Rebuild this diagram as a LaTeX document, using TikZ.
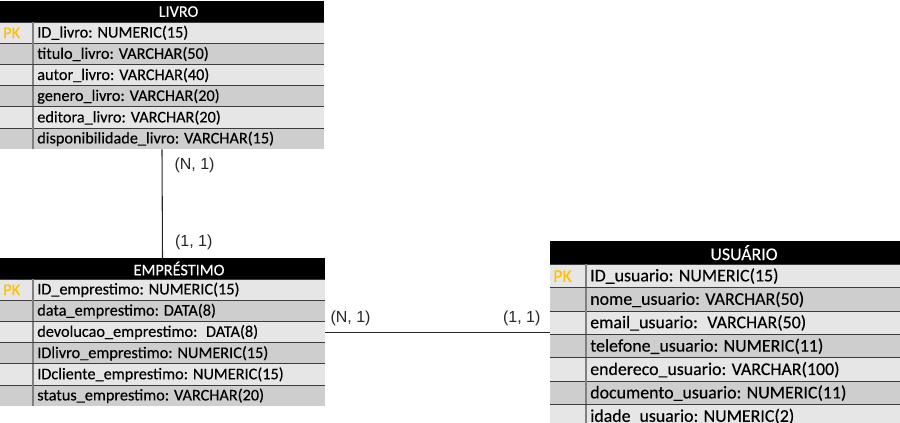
\documentclass[tikz,border=0pt]{standalone}
\usepackage{fontspec}
\setmainfont{Carlito}[FakeBold=0.25]
\newfontfamily\arial{Liberation Sans}
\usetikzlibrary{positioning}

\definecolor{linhaclara}{HTML}{E6E6E6}
\definecolor{linhaescura}{HTML}{CECECE}
\definecolor{chave}{HTML}{FFC000}
\definecolor{separador}{HTML}{3C3C3C}
\definecolor{divisor}{HTML}{808080}

\tikzset{
    cabecalho/.style={fill=black, inner sep=0pt, outer sep=0pt},
    linha/.style={inner sep=0pt, outer sep=0pt},
    titulo/.style={inner sep=0pt, text=white},
    campo/.style={anchor=west, inner sep=0pt, text=black},
    chavepk/.style={anchor=west, inner sep=0pt, text=chave},
    card/.style={inner sep=0pt, font=\arial\fontsize{12}{14}\selectfont},
    ligacao/.style={black!85, line width=0.8pt},
}

\newcommand{\tabela}[9]{% name, x, y, width, row height, pk width, font size, title, fields
    \node[cabecalho, minimum width=#4*0.75pt, minimum height=#5*0.75pt] (#1) at (#2+#4/2, #3+#5/2) {};
    \node[titulo, font=\fontsize{#7}{#7}\selectfont] (#1-titulo) at ([xshift=#6*0.375pt]#1.center) {#8};
    \foreach \campo [count=\i] in {#9} {
        \pgfmathtruncatemacro{\paridade}{mod(\i,2)}
        \ifnum\paridade=1 \def\cor{linhaclara}\else\def\cor{linhaescura}\fi
        \node[linha, fill=\cor, minimum width=#4*0.75pt, minimum height=#5*0.75pt] (#1-\i) at (#2+#4/2, #3+#5/2+\i*#5) {};
        \draw[separador, line width=0.75pt] (#1-\i.north west) -- (#1-\i.north east);
        \draw[divisor, line width=1pt] ([xshift=#6*0.75pt]#1-\i.north west) -- ([xshift=#6*0.75pt]#1-\i.south west);
        \node[campo, font=\fontsize{#7}{#7}\selectfont] (#1-\i-texto) at ([xshift=#6*0.75pt+3pt]#1-\i.west) {\campo};
    }
    \node[chavepk, font=\fontsize{#7}{#7}\selectfont] (#1-pk) at ([xshift=2.25pt]#1-1.west) {PK};
}

\begin{document}
\begin{tikzpicture}[x=0.75pt, y=-0.75pt]
    \useasboundingbox (0,0) rectangle (900,423);

    % Tabelas
    \tabela{livro}{0}{1}{324}{21.2}{33}{12.2}{LIVRO}{%
        ID\_livro: NUMERIC(15),
        titulo\_livro: VARCHAR(50),
        autor\_livro: VARCHAR(40),
        genero\_livro: VARCHAR(20),
        editora\_livro: VARCHAR(20),
        disponibilidade\_livro: VARCHAR(15)}
    \tabela{emprestimo}{0}{258}{325}{21.2}{33}{12.2}{EMPRÉSTIMO}{%
        ID\_emprestimo: NUMERIC(15),
        data\_emprestimo: DATA(8),
        devolucao\_emprestimo:~ DATA(8),
        IDlivro\_emprestimo: NUMERIC(15),
        IDcliente\_emprestimo: NUMERIC(15),
        status\_emprestimo: VARCHAR(20)}
    \tabela{usuario}{550}{241}{352}{23.4}{36}{13.4}{USUÁRIO}{%
        ID\_usuario: NUMERIC(15),
        nome\_usuario: VARCHAR(50),
        email\_usuario:~ VARCHAR(50),
        telefone\_usuario: NUMERIC(11),
        endereco\_usuario: VARCHAR(100),
        documento\_usuario: NUMERIC(11),
        idade\_usuario: NUMERIC(2)}

    % Ligacoes
    \draw[ligacao] (livro-6.south) -- (emprestimo.north)
        node[card, pos=0, below right=6pt and 9pt] (card-livro) {(N, 1)}
        node[card, pos=1, above right=6pt and 9pt] (card-emp-livro) {(1, 1)};
    \draw[ligacao] (emprestimo-3.east) -- (emprestimo-3.east -| usuario.west)
        node[card, pos=0, above right=4.5pt and 3.75pt] (card-emp-usuario) {(N, 1)}
        node[card, pos=1, above left=4.5pt and 6.75pt] (card-usuario) {(1, 1)};
\end{tikzpicture}
\end{document}
